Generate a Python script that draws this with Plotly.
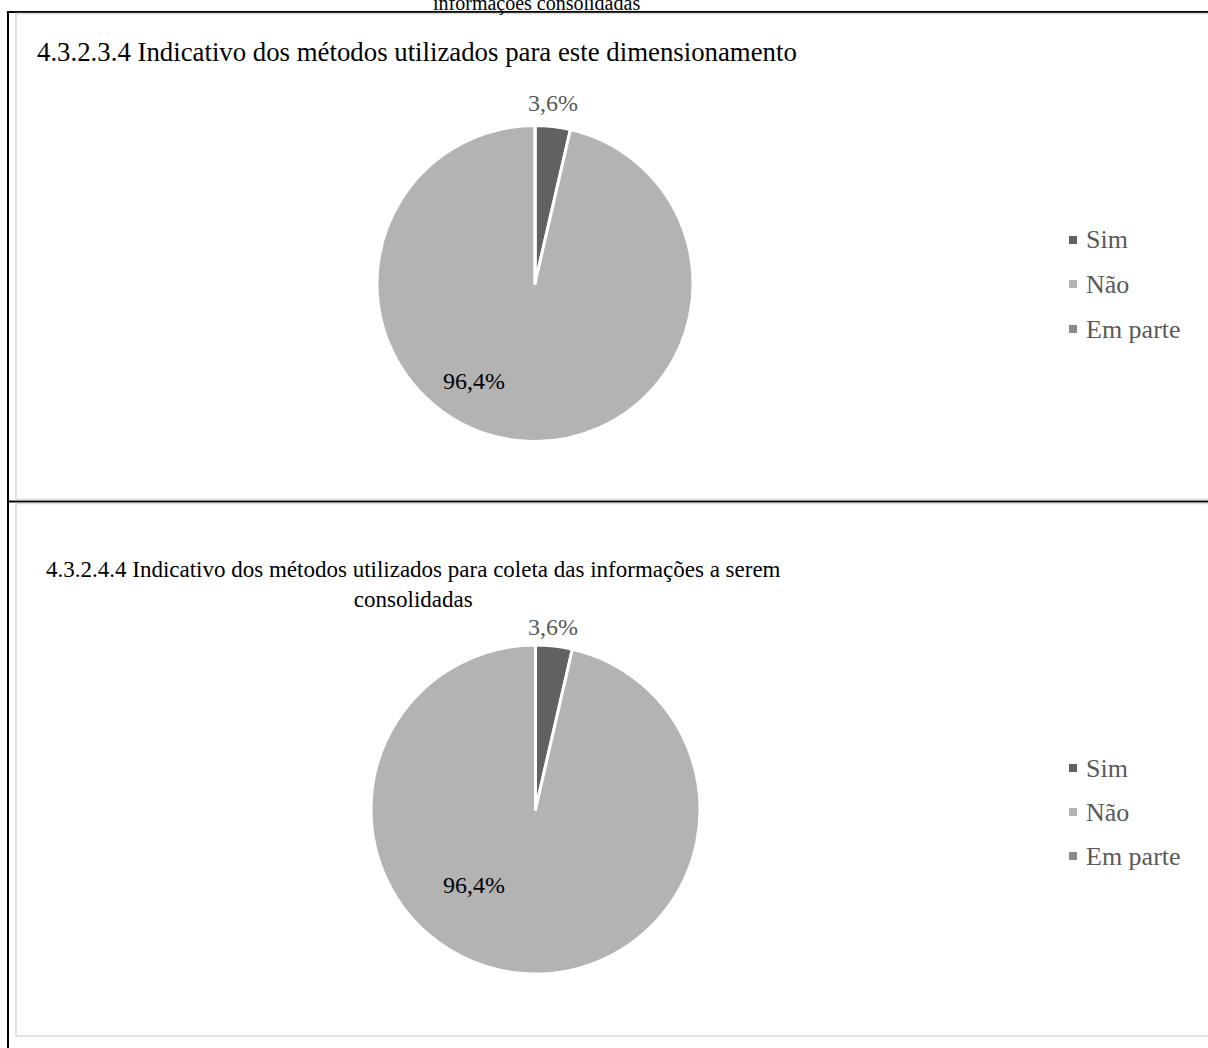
import plotly.graph_objects as go

# Survey answers shown in both panels
categories = ["Sim", "Não", "Em parte"]
values_dimensionamento = [3.6, 96.4, 0.0]
values_coleta = [3.6, 96.4, 0.0]
slice_colors = ["#616161", "#b3b3b3", "#8a8a8a"]

W, H = 1208, 1048
SERIF = "Liberation Serif, Times New Roman, serif"


def fx(x):
    return x / W


def fy(y):
    return 1 - y / H


def pct(v):
    return f"{v:.1f}%".replace(".", ",")


fig = go.Figure()

panels = [
    dict(values=values_dimensionamento, cx=535, cy=283.5, r=158),
    dict(values=values_coleta, cx=535.5, cy=809.5, r=164.5),
]

for p in panels:
    fig.add_trace(go.Pie(
        labels=categories,
        values=p["values"],
        sort=False,
        direction="clockwise",
        rotation=0,
        marker=dict(colors=slice_colors, line=dict(color="white", width=3)),
        textinfo="none",
        hoverinfo="label+percent",
        showlegend=False,
        domain=dict(x=[fx(p["cx"] - p["r"]), fx(p["cx"] + p["r"])],
                    y=[fy(p["cy"] + p["r"]), fy(p["cy"] - p["r"])]),
    ))

shapes = []
annotations = []

# frame lines of the surrounding table
black = dict(color="black", width=2)
shapes.append(dict(type="line", xref="paper", yref="paper", x0=fx(8), x1=fx(8), y0=fy(11), y1=fy(1048), line=black))
shapes.append(dict(type="line", xref="paper", yref="paper", x0=fx(7), x1=fx(1208), y0=fy(12), y1=fy(12), line=black))
shapes.append(dict(type="line", xref="paper", yref="paper", x0=fx(7), x1=fx(1208), y0=fy(501.5), y1=fy(501.5), line=black))

# light chart-area borders
gray = dict(color="#d9d9d9", width=1.5)
for top, bottom in [(13.5, 499.5), (503.5, 1036)]:
    shapes.append(dict(type="rect", xref="paper", yref="paper", x0=fx(16), x1=fx(1212),
                       y0=fy(bottom), y1=fy(top), line=gray, fillcolor="rgba(0,0,0,0)"))

# caption running off the top edge of the page
annotations.append(dict(text="informações consolidadas", x=fx(536), y=fy(3), xref="paper", yref="paper",
                        showarrow=False, font=dict(family=SERIF, size=20, color="black"),
                        xanchor="center", yanchor="middle"))

# panel titles
annotations.append(dict(text="4.3.2.3.4 Indicativo dos métodos utilizados para este dimensionamento",
                        x=fx(417), y=fy(52), xref="paper", yref="paper", showarrow=False,
                        font=dict(family=SERIF, size=26.8, color="black"), xanchor="center", yanchor="middle"))
annotations.append(dict(text="4.3.2.4.4 Indicativo dos métodos utilizados para coleta das informações a serem<br>consolidadas",
                        x=fx(414), y=fy(584), xref="paper", yref="paper", showarrow=False, align="center",
                        font=dict(family=SERIF, size=23, color="black"), xanchor="center", yanchor="middle"))

# data labels and legends for each pie
for p, (small_y, big_xy, legend_ys) in zip(panels, [
    (103, (474, 381), (240, 284, 329)),
    (627, (474, 885), (768, 812, 856)),
]):
    annotations.append(dict(text=pct(p["values"][0]), x=fx(553), y=fy(small_y), xref="paper", yref="paper",
                            showarrow=False, font=dict(family=SERIF, size=24, color="#595959"),
                            xanchor="center", yanchor="middle"))
    annotations.append(dict(text=pct(p["values"][1]), x=fx(big_xy[0]), y=fy(big_xy[1]), xref="paper", yref="paper",
                            showarrow=False, font=dict(family=SERIF, size=24, color="black"),
                            xanchor="center", yanchor="middle"))
    for label, color, ly in zip(categories, slice_colors, legend_ys):
        shapes.append(dict(type="rect", xref="paper", yref="paper", x0=fx(1069), x1=fx(1077),
                           y0=fy(ly + 4), y1=fy(ly - 4), line=dict(width=0), fillcolor=color))
        annotations.append(dict(text=label, x=fx(1084), y=fy(ly), xref="paper", yref="paper",
                                showarrow=False, font=dict(family=SERIF, size=26, color="#595959"),
                                xanchor="left", yanchor="middle"))

fig.update_layout(
    width=W, height=H, autosize=False,
    margin=dict(l=0, r=0, t=0, b=0),
    paper_bgcolor="white", plot_bgcolor="white",
    shapes=shapes, annotations=annotations,
)

fig.write_html("out.html")
